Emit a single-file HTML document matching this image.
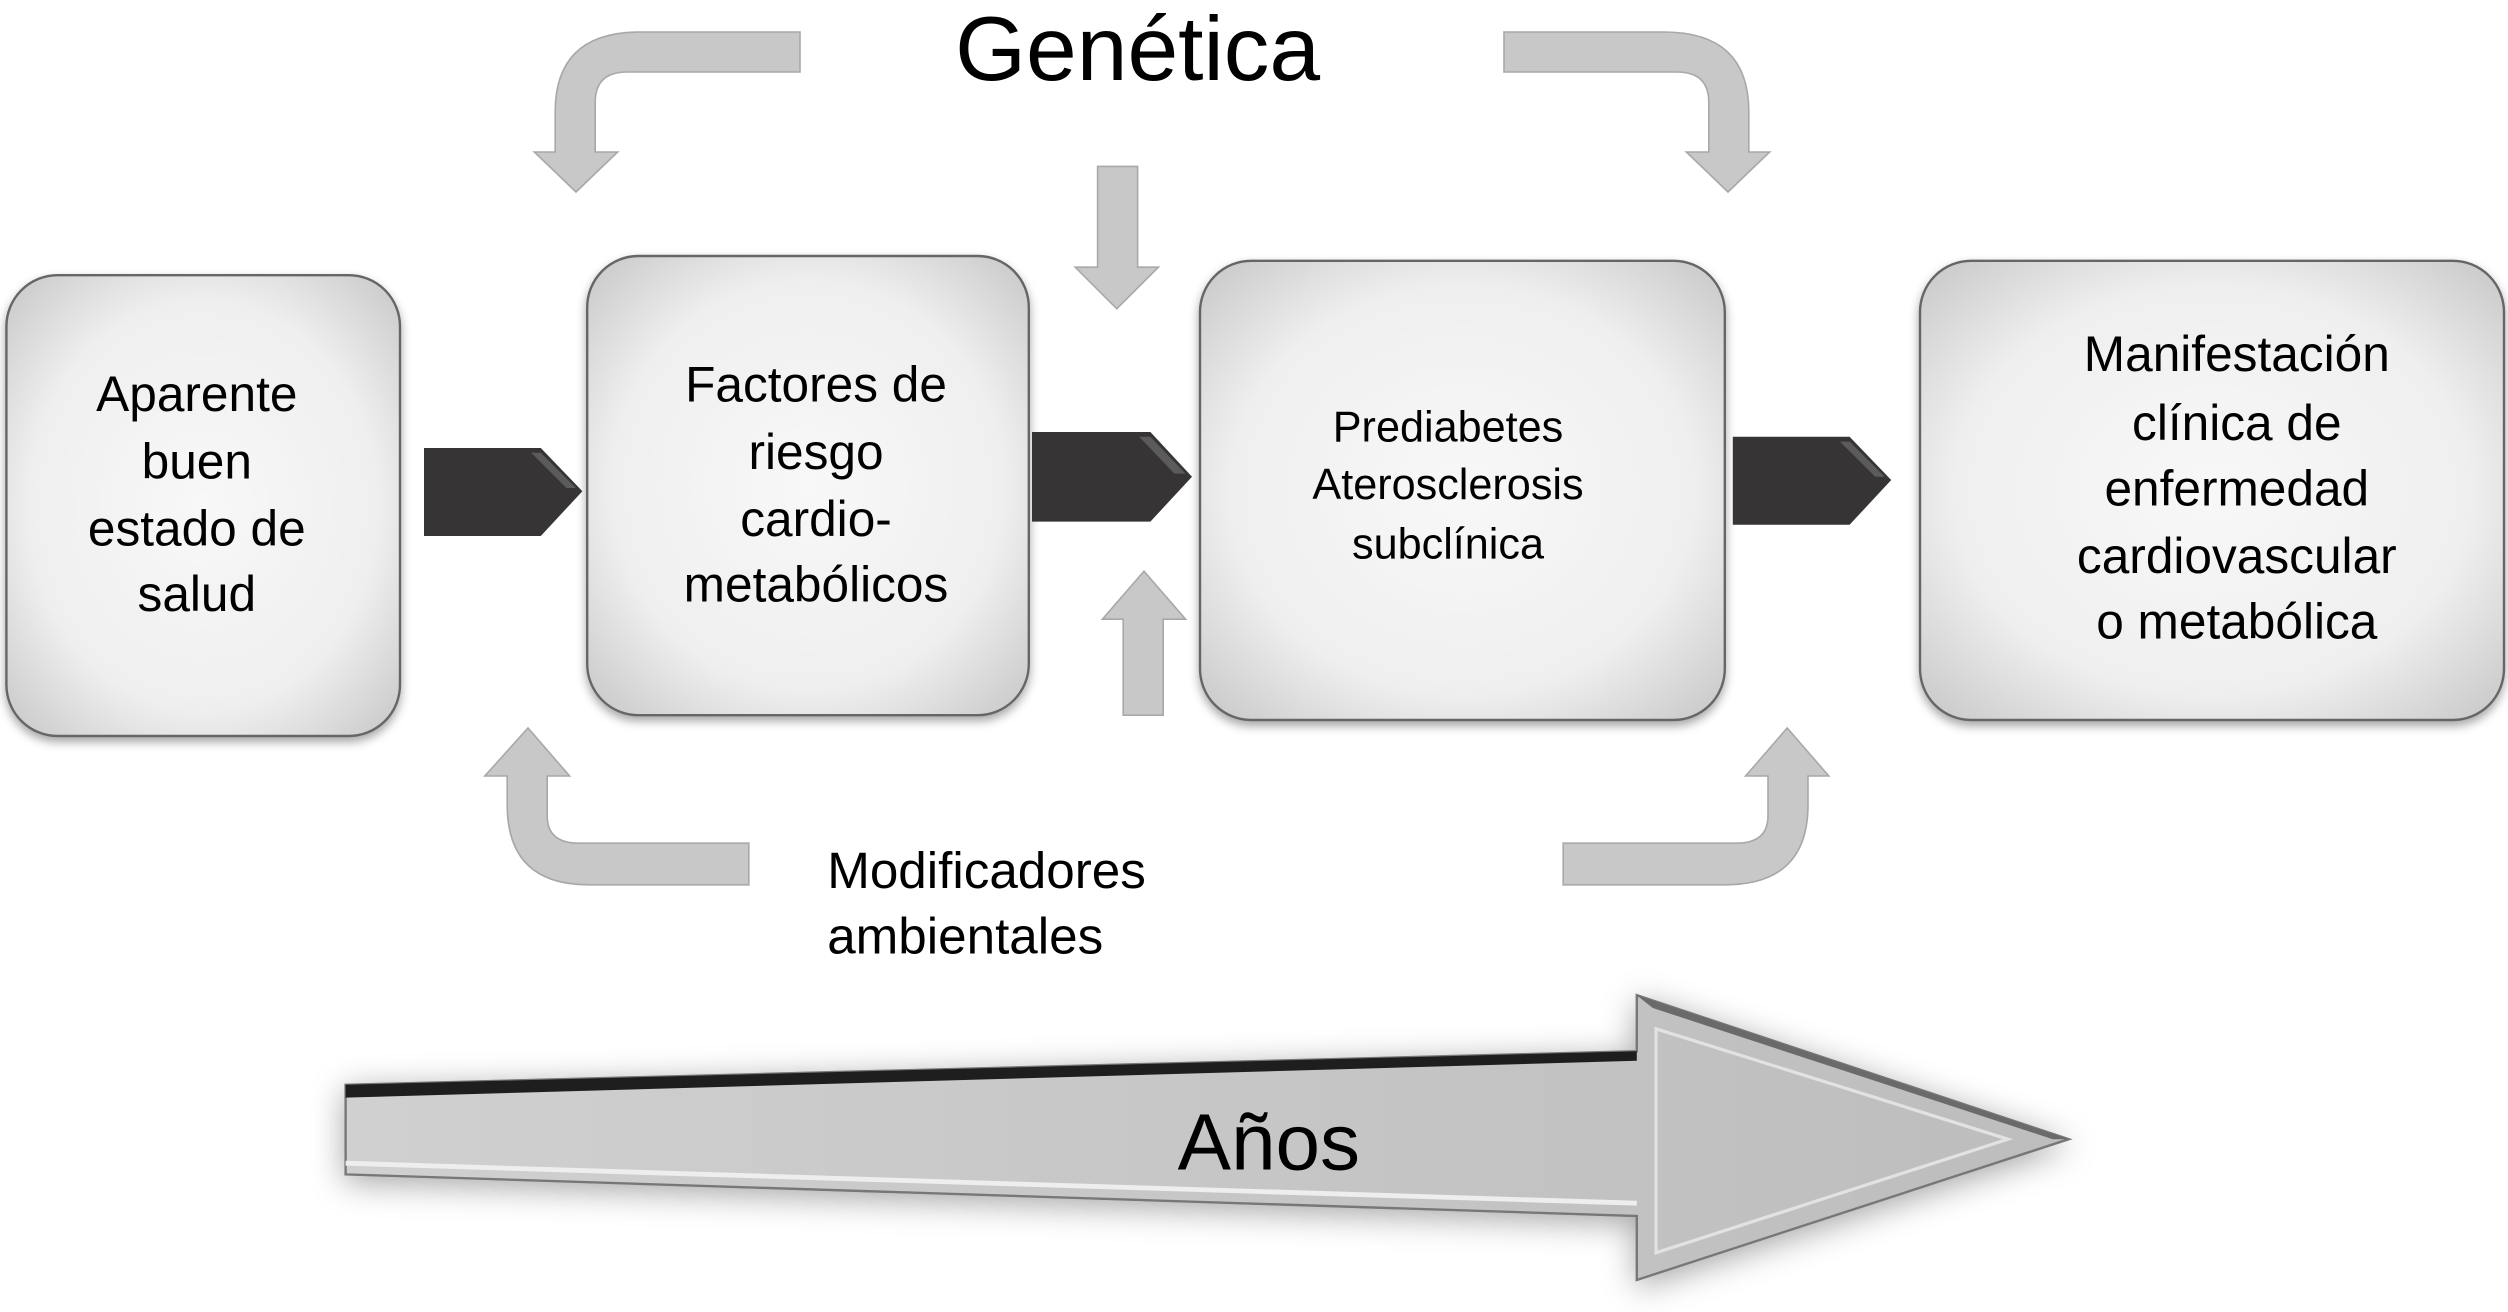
<!DOCTYPE html>
<html><head><meta charset="utf-8"><style>
html,body{margin:0;padding:0;background:#fff;width:2508px;height:1312px;overflow:hidden}
svg{display:block}
text{font-family:"Liberation Sans",Arial,sans-serif;fill:#000}
</style></head><body>
<svg width="2508" height="1312" viewBox="0 0 1567.5 820" preserveAspectRatio="none" xmlns="http://www.w3.org/2000/svg">
<defs>
<radialGradient id="bx" cx="50%" cy="50%" r="68%">
<stop offset="0" stop-color="#f8f8f8"/><stop offset="0.65" stop-color="#efefef"/><stop offset="1" stop-color="#cacaca"/>
</radialGradient>
<filter id="sh" x="-10%" y="-10%" width="120%" height="125%"><feDropShadow dx="0" dy="3" stdDeviation="3" flood-color="#000" flood-opacity="0.35"/></filter>
<filter id="bsh" x="-10%" y="-40%" width="120%" height="180%"><feDropShadow dx="0" dy="4" stdDeviation="10" flood-color="#000" flood-opacity="0.35"/></filter>
<linearGradient id="big" x1="0" y1="0" x2="1" y2="0"><stop offset="0" stop-color="#d0d0d0"/><stop offset="1" stop-color="#bdbdbd"/></linearGradient>
</defs>

<g filter="url(#sh)" stroke="#666" stroke-width="1.5" fill="url(#bx)">
<rect x="4" y="172" width="246" height="288" rx="32"/>
<rect x="367" y="160" width="276" height="287" rx="32"/>
<rect x="750" y="163" width="328" height="287" rx="32"/>
<rect x="1200" y="163" width="365" height="287" rx="32"/>
</g>

<g fill="#363435">
<path d="M265,280 L338,280 L364,307 L338,335 L265,335 Z"/>
<path d="M645,270 L719,270 L745,298 L719,326 L645,326 Z"/>
<path d="M1083,273 L1156,273 L1182,300 L1156,328 L1083,328 Z"/>
</g>
<g fill="#777" opacity="0.6">
<path d="M332,283 L338,283 L360,305 L354,305 Z"/>
<path d="M712,273 L719,273 L741,296 L734,296 Z"/>
<path d="M1150,276 L1156,276 L1178,298 L1172,298 Z"/>
</g>

<g fill="#c8c8c8" stroke="#a8a8a8" stroke-width="1">
<path d="M500,20 L400,20 Q347,20 347,70 L347,95 L334,95 L360,120 L386,95 L372,95 L372,64 Q372,45 392,45 L500,45 Z"/>
<path d="M940,20 L1040,20 Q1093,20 1093,70 L1093,95 L1106,95 L1080,120 L1054,95 L1068,95 L1068,64 Q1068,45 1048,45 L940,45 Z"/>
<path d="M686,104 L711,104 L711,167 L724,167 L698,193 L672,167 L686,167 Z"/>
<path d="M702,447 L727,447 L727,387 L741,387 L715,357 L689,387 L702,387 Z"/>
<path d="M468,553 L368,553 Q317,553 317,503 L317,485 L303,485 L330,455 L356,485 L342,485 L342,510 Q342,527 362,527 L468,527 Z"/>
<path d="M977,553 L1078,553 Q1130,553 1130,503 L1130,485 L1143,485 L1117,455 L1091,485 L1105,485 L1105,510 Q1105,527 1085,527 L977,527 Z"/>
</g>

<g filter="url(#bsh)">
<path d="M216,678 L1023,657 L1023,622 L1293,712 L1023,800 L1023,760 L216,734 Z" fill="url(#big)" stroke="#777" stroke-width="1.5"/>
</g>
<path d="M216,678 L1023,657 L1023,663 L216,686 Z" fill="#1e1e1e"/>
<path d="M1023,622 L1293,712 L1283,712 L1033,630 Z" fill="#6a6a6a"/>
<path d="M1035,643 L1255,712 L1035,783 Z" fill="none" stroke="#e2e2e2" stroke-width="2"/>
<path d="M216,727 L1023,752" stroke="#eee" stroke-width="3" fill="none"/>

<g font-size="31" text-anchor="middle">
<text x="123" y="257">Aparente</text>
<text x="123" y="299">buen</text>
<text x="123" y="341">estado de</text>
<text x="123" y="382">salud</text>
<text x="510" y="251">Factores de</text>
<text x="510" y="293">riesgo</text>
<text x="510" y="335">cardio-</text>
<text x="510" y="376">metabólicos</text>
<text x="1398" y="232">Manifestación</text>
<text x="1398" y="275">clínica de</text>
<text x="1398" y="316">enfermedad</text>
<text x="1398" y="358">cardiovascular</text>
<text x="1398" y="399">o metabólica</text>
</g>
<g font-size="27" text-anchor="middle">
<text x="905" y="276">Prediabetes</text>
<text x="905" y="312">Aterosclerosis</text>
<text x="905" y="349">subclínica</text>
</g>
<text x="711" y="50" font-size="57" text-anchor="middle">Genética</text>
<text x="517" y="555" font-size="32">Modificadores</text>
<text x="517" y="596" font-size="32">ambientales</text>
<text x="793" y="731" font-size="50" text-anchor="middle">Años</text>
</svg>
</body></html>
